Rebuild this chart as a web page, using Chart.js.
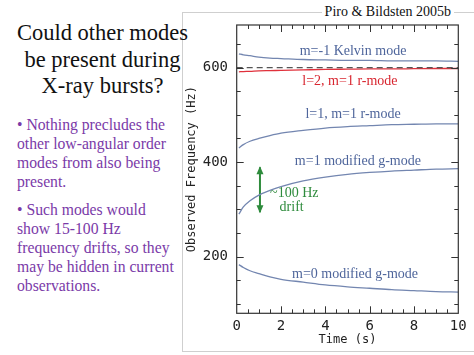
<!DOCTYPE html>
<html>
<head>
<meta charset="utf-8">
<script src="https://cdn.jsdelivr.net/npm/chart.js@4.4.1/dist/chart.umd.min.js"></script>
<style>
  html, body { margin: 0; padding: 0; background: #fff; }
  body { width: 474px; height: 355px; position: relative; overflow: hidden; }
  #frame { position: absolute; left: 182px; top: 12px; width: 300px; height: 338px;
           border-left: 1px solid #cfcfcf; border-top: 1px solid #cfcfcf; border-bottom: 1px solid #cfcfcf; }
  #wrap { position: absolute; left: 0; top: 0; width: 474px; height: 355px; }
  #cite { position: absolute; right: 20px; top: 3px; background: #fff; padding: 0 3px;
          font-family: "Liberation Serif", "Times New Roman", serif; font-size: 14px; color: #111; line-height: 18px; }
  #title { position: absolute; left: 0; width: 205px; top: 20px; text-align: center;
           font-family: "Liberation Serif", "Times New Roman", serif; font-size: 22.5px; line-height: 26.7px; color: #111; }
  .bul { position: absolute; left: 17px; width: 170px;
         font-family: "Liberation Serif", "Times New Roman", serif; font-size: 15.7px; line-height: 19px; color: #7a3aa8; white-space: nowrap; }
</style>
</head>
<body>
<div id="frame"></div>
<div id="title">Could other modes<br>be present during<br>X-ray bursts?</div>
<div class="bul" style="top:115px">• Nothing precludes the<br>other low-angular order<br>modes from also being<br>present.</div>
<div class="bul" style="top:200px">• Such modes would<br>show 15-100 Hz<br>frequency drifts, so they<br>may be hidden in current<br>observations.</div>
<div id="wrap"><canvas id="c" width="474" height="355"></canvas></div>
<div id="cite">Piro &amp; Bildsten 2005b</div>
<script>
// ---- data ----
const timeS = [0.1, 0.3, 0.6, 1, 1.5, 2, 3, 4, 5, 6, 7, 8, 9, 10];
const kelvinMode   = [629, 627, 625, 622, 620, 619, 617, 616, 615, 615, 614, 614, 614, 613];
const rModeL2      = [591, 591.5, 592, 593, 593.5, 594, 595, 596, 596.5, 597, 597, 597.5, 598, 598];
const rModeL1      = [430, 437, 444, 450, 456, 461, 467, 472, 475, 477, 479, 480, 481, 481];
const gModeM1      = [290, 305, 318, 330, 340, 348, 360, 368, 374, 378, 381, 383, 385, 386];
const gModeM0      = [183, 177, 170, 164, 157, 152, 146, 140, 136, 133, 130, 128, 126, 125];
const refLineX     = [0, 10];
const refLineY     = [600, 600];
const driftArrowX  = [1.05, 1.05];
const driftArrowY  = [294, 389];
const yTickLabels  = [200, 400, 600];
const xTickLabels  = [0, 2, 4, 6, 8, 10];
const curveLabels  = [
  { text: "m=-1 Kelvin mode",     t: 5.25, f: 634,   red: false },
  { text: "l=2, m=1 r-mode",      t: 5.11, f: 570.5, red: true  },
  { text: "l=1, m=1 r-mode",      t: 5.25, f: 501,   red: false },
  { text: "m=1 modified g-mode",  t: 5.47, f: 402,   red: false },
  { text: "m=0 modified g-mode",  t: 5.34, f: 161.5, red: false }
];
const driftLabels = [
  { text: "~100 Hz", t: 2.6,  f: 334 },
  { text: "drift",   t: 2.48, f: 304 }
];

const BLUE = "#7386b0", BLUE_TXT = "#4e659b", RED = "#e0313c", GREEN = "#2e8b3c";
const pts = (xs, ys) => xs.map((x, i) => ({ x: x, y: ys[i] }));
const curve = (ys, color) => ({
  data: pts(timeS, ys), borderColor: color, borderWidth: 1.3, pointRadius: 0,
  cubicInterpolationMode: "monotone", fill: false
});

const decor = {
  id: "decor",
  afterDatasetsDraw(chart) {
    const ctx = chart.ctx, a = chart.chartArea, xs = chart.scales.x, ys = chart.scales.y;
    ctx.save();
    ctx.strokeStyle = "#333"; ctx.lineWidth = 1.2;
    ctx.strokeRect(a.left, a.top, a.right - a.left, a.bottom - a.top);
    ctx.lineWidth = 1;
    for (let v = 100; v <= 650; v += 50) {
      const y = Math.round(ys.getPixelForValue(v)) + 0.5;
      const L = (v % 200 === 0) ? 7 : 4;
      ctx.beginPath();
      ctx.moveTo(a.left, y); ctx.lineTo(a.left + L, y);
      ctx.moveTo(a.right, y); ctx.lineTo(a.right - L, y);
      ctx.stroke();
    }
    for (let v = 0.5; v < 10; v += 0.5) {
      const x = Math.round(xs.getPixelForValue(v)) + 0.5;
      const L = (v % 2 === 0) ? 7 : 4;
      ctx.beginPath();
      ctx.moveTo(x, a.bottom); ctx.lineTo(x, a.bottom - L);
      ctx.moveTo(x, a.top); ctx.lineTo(x, a.top + L);
      ctx.stroke();
    }
    // arrow heads
    const meta = chart.getDatasetMeta(6);
    const p0 = meta.data[0], p1 = meta.data[1];
    ctx.fillStyle = GREEN;
    const head = (x, y, dir) => {
      ctx.beginPath();
      ctx.moveTo(x, y); ctx.lineTo(x - 3.5, y - dir * 8); ctx.lineTo(x + 3.5, y - dir * 8); ctx.closePath(); ctx.fill();
    };
    head(p0.x, p0.y + 1, 1);
    head(p1.x, p1.y - 1, -1);
    // labels
    ctx.font = '14px "Liberation Serif", "Times New Roman", serif';
    ctx.textAlign = "center"; ctx.textBaseline = "middle";
    curveLabels.forEach(l => {
      ctx.fillStyle = l.red ? "#d8252f" : BLUE_TXT;
      ctx.fillText(l.text, xs.getPixelForValue(l.t), ys.getPixelForValue(l.f));
    });
    ctx.fillStyle = GREEN;
    driftLabels.forEach(l => ctx.fillText(l.text, xs.getPixelForValue(l.t), ys.getPixelForValue(l.f)));
    ctx.restore();
  }
};

const monoTick = { family: '"DejaVu Sans Mono", monospace', size: 14 };
const monoTitle = { family: '"DejaVu Sans Mono", monospace', size: 12 };

new Chart(document.getElementById("c"), {
  type: "line",
  data: {
    datasets: [
      curve(kelvinMode, BLUE),
      { data: pts(refLineX, refLineY), borderColor: "#555", borderWidth: 1.2, borderDash: [6, 4], pointRadius: 0 },
      curve(rModeL2, RED),
      curve(rModeL1, BLUE),
      curve(gModeM1, BLUE),
      curve(gModeM0, BLUE),
      { data: pts(driftArrowX, driftArrowY), borderColor: GREEN, borderWidth: 2, pointRadius: 0 }
    ]
  },
  options: {
    responsive: false, animation: false, devicePixelRatio: 1,
    layout: { padding: { left: 180, right: 15.7, top: 25, bottom: 0 } },
    plugins: { legend: { display: false }, tooltip: { enabled: false } },
    scales: {
      x: {
        type: "linear", min: 0, max: 10,
        grid: { display: false, drawTicks: false }, border: { display: false },
        ticks: { stepSize: 2, autoSkip: false, maxRotation: 0, padding: 5, color: "#222", font: monoTick,
                 callback: v => xTickLabels.includes(v) ? String(v) : "" },
        title: { display: true, text: "Time (s)", color: "#222", font: monoTitle, padding: { top: 0, bottom: 7.8 } },
        afterFit: s => { s.height = 41.7; }
      },
      y: {
        type: "linear", min: 80, max: 690,
        grid: { display: false, drawTicks: false }, border: { display: false },
        ticks: { stepSize: 50, autoSkip: false, padding: 8.7, color: "#222", font: monoTick,
                 callback: v => yTickLabels.includes(v) ? String(v) : "" },
        title: { display: true, text: "Observed Frequency (Hz)", color: "#222", font: monoTitle, padding: { top: 5, bottom: 0 } },
        afterFit: s => { s.width = 56.7; }
      }
    }
  },
  plugins: [decor]
});
</script>
</body>
</html>
